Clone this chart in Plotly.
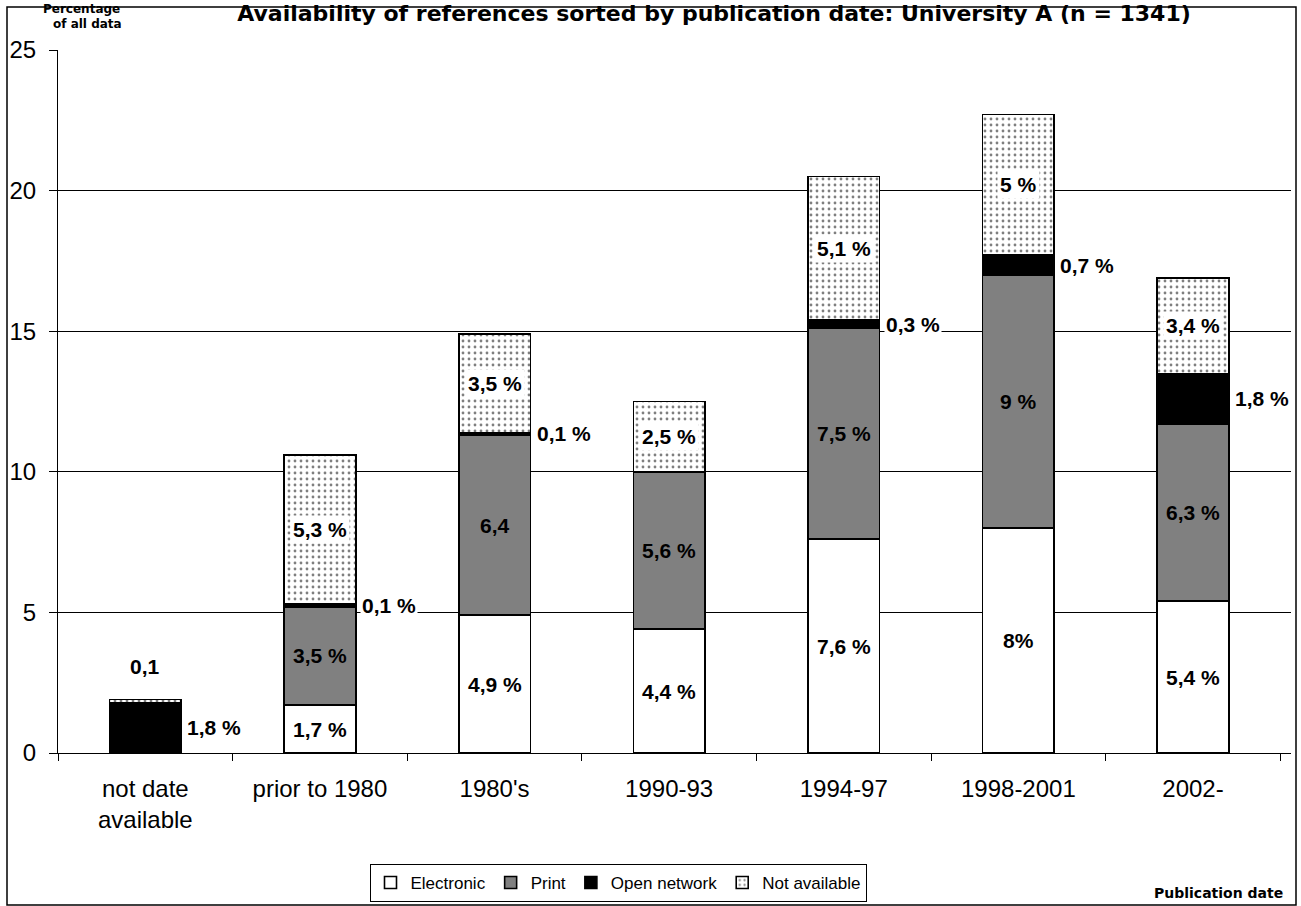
import plotly.graph_objects as go

categories = ["not date<br>available", "prior to 1980", "1980's", "1990-93", "1994-97", "1998-2001", "2002-"]
electronic = [0.0, 1.7, 4.9, 4.4, 7.6, 8.0, 5.4]
print_ = [0.0, 3.5, 6.4, 5.6, 7.5, 9.0, 6.3]
open_network = [1.8, 0.1, 0.1, 0.0, 0.3, 0.7, 1.8]
not_available = [0.1, 5.3, 3.5, 2.5, 5.1, 5.0, 3.4]

electronic_labels = ["", "1,7 %", "4,9 %", "4,4 %", "7,6 %", "8%", "5,4 %"]
print_labels = ["", "3,5 %", "6,4", "5,6 %", "7,5 %", "9 %", "6,3 %"]
open_labels = ["1,8 %", "0,1 %", "0,1 %", "", "0,3 %", "0,7 %", "1,8 %"]
not_avail_labels = ["0,1", "5,3 %", "3,5 %", "2,5 %", "5,1 %", "5 %", "3,4 %"]

y_ticks = [0, 5, 10, 15, 20, 25]

FONT = "Arial, Liberation Sans, sans-serif"
WIDE = "DejaVu Sans, Arial, sans-serif"
line = dict(color="black", width=1.6)

fig = go.Figure()
fig.add_trace(go.Bar(name="Electronic", x=categories, y=electronic,
                     marker=dict(color="white", line=line)))
fig.add_trace(go.Bar(name="Print", x=categories, y=print_,
                     marker=dict(color="#808080", line=line)))
fig.add_trace(go.Bar(name="Open network", x=categories, y=open_network,
                     marker=dict(color="black", line=line)))
fig.add_trace(go.Bar(name="Not available", x=categories, y=not_available,
                     marker=dict(color="white", line=line,
                                 pattern=dict(shape=".", fgcolor="black", bgcolor="white",
                                              size=6, solidity=0.17))))

lab_font = dict(family=FONT, size=21, color="black")
annotations = []
for i, c in enumerate(categories):
    e, p, o, n = electronic[i], print_[i], open_network[i], not_available[i]
    if electronic_labels[i]:
        annotations.append(dict(x=c, y=e / 2, text="<b>%s</b>" % electronic_labels[i],
                                showarrow=False, font=lab_font))
    if print_labels[i]:
        annotations.append(dict(x=c, y=e + p / 2, text="<b>%s</b>" % print_labels[i],
                                showarrow=False, font=lab_font))
    if open_labels[i]:
        annotations.append(dict(x=c, y=e + p + o / 2, text="<b>%s</b>" % open_labels[i],
                                showarrow=False, font=lab_font, xanchor="left",
                                xshift=40, bgcolor="white", borderpad=1))
    if not_avail_labels[i]:
        if i == 0:
            annotations.append(dict(x=c, y=e + p + o + n, text="<b>%s</b>" % not_avail_labels[i],
                                    showarrow=False, font=lab_font, yanchor="bottom", yshift=20))
        else:
            annotations.append(dict(x=c, y=e + p + o + n / 2, text="<b>%s</b>" % not_avail_labels[i],
                                    showarrow=False, font=lab_font, bgcolor="white", borderpad=2))

annotations.append(dict(xref="paper", yref="paper", x=(81 - 58) / 1233, y=(753 - 9) / 703,
                        xanchor="center", yanchor="middle",
                        text="<b>Percentage</b>", showarrow=False, borderpad=0,
                        font=dict(family=WIDE, size=12, color="black")))
annotations.append(dict(xref="paper", yref="paper", x=(87 - 58) / 1233, y=(753 - 24) / 703,
                        xanchor="center", yanchor="middle",
                        text="<b>of all data</b>", showarrow=False, borderpad=0,
                        font=dict(family=WIDE, size=12, color="black")))
annotations.append(dict(xref="paper", yref="paper", x=(1285 - 58) / 1233, y=(753 - 893) / 703,
                        xanchor="right", yanchor="middle",
                        text="<b>Publication date</b>", showarrow=False,
                        font=dict(family=WIDE, size=14, color="black")))

fig.update_layout(
    width=1301, height=906,
    margin=dict(l=58, r=10, t=50, b=153),
    paper_bgcolor="white", plot_bgcolor="white",
    barmode="stack", bargap=0.59,
    font=dict(family=FONT, size=24, color="black"),
    title=dict(text="<b>Availability of references sorted by publication date: University A (n = 1341)</b>",
               x=714 / 1301, xref="container", xanchor="center", y=1 - 13 / 906, yref="container",
               yanchor="middle",
               font=dict(family=WIDE, size=22, color="black")),
    legend=dict(orientation="h", xref="container", yref="container",
                x=618 / 1301, xanchor="center", y=1 - 883 / 906, yanchor="middle",
                bordercolor="black", borderwidth=1, bgcolor="white",
                font=dict(family=FONT, size=17, color="black"), traceorder="normal",
                itemwidth=30),
    annotations=annotations,
    shapes=[dict(type="rect", xref="paper", yref="paper",
                 x0=(7 - 58) / 1233, x1=(1296 - 58) / 1233,
                 y0=(753 - 905) / 703, y1=(753 - 7) / 703,
                 line=dict(color="black", width=1.5), layer="below")],
)
fig.update_xaxes(showline=True, linecolor="black", linewidth=1, ticks="outside", tickson="boundaries",
                 ticklen=7, tickcolor="black", showgrid=False, ticklabelstandoff=14,
                 automargin=False,
                 tickfont=dict(family=FONT, size=24, color="black"))
fig.update_yaxes(range=[0, 25], tickvals=y_ticks, showline=True, linecolor="black", linewidth=1,
                 ticks="outside", ticklen=8, tickcolor="black", showgrid=True, gridcolor="black",
                 gridwidth=1, zeroline=False, ticklabelstandoff=8, automargin=False,
                 tickfont=dict(family=FONT, size=24, color="black"))

fig.write_html("out.html", config={"displayModeBar": False},
               post_script="document.body.style.margin='0';")
